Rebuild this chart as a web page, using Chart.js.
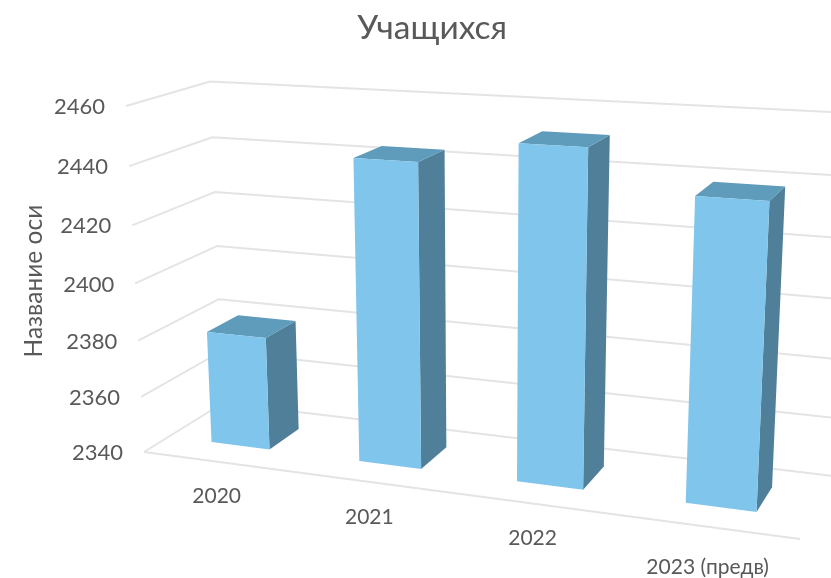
<!DOCTYPE html>
<html lang="ru">
<head>
<meta charset="utf-8">
<title>Учащихся</title>
<script src="https://cdn.jsdelivr.net/npm/chart.js@4/dist/chart.umd.js"></script>
<style>
  html, body { margin: 0; padding: 0; background: #fff; overflow: hidden; }
  canvas { display: block; }
</style>
</head>
<body>
<canvas id="chart" width="831" height="578"></canvas>
<script>
'use strict';

const categories = ['2020', '2021', '2022', '2023 (предв)'];
const students = [2380, 2444, 2452, 2439];
const axisMin = 2340;
const axisMax = 2460;
const axisStep = 20;

const FONT = 'Lato, "Open Sans", sans-serif';
const TEXT = '#595959';
const GRID = '#e4e4e4';
const FRONT = '#7fc5ec';
const TOP = '#5f9bba';
const SIDE = '#507f99';

// Perspective box: the floor/wall corners on screen plus the weight of each axis
const box = {
  o: [144, 452],   // front-left floor
  u: [800, 539],   // front-right floor
  v: [126, 106],   // front-left top
  d: [223, 403],   // back-left floor
  wu: -0.128,
  wv: -0.05,
  wd: 0.08
};
const barDepth = [0.3, 0.7];

function project(u, v, d) {
  const w = 1 + box.wu * u + box.wv * v + box.wd * d;
  const at = i =>
    box.o[i] +
    (box.u[i] * (1 + box.wu) - box.o[i]) * u +
    (box.v[i] * (1 + box.wv) - box.o[i]) * v +
    (box.d[i] * (1 + box.wd) - box.o[i]) * d;
  return [at(0) / w, at(1) / w];
}

function poly(ctx, pts, color) {
  ctx.beginPath();
  pts.forEach((p, i) => (i ? ctx.lineTo(p[0], p[1]) : ctx.moveTo(p[0], p[1])));
  ctx.closePath();
  ctx.fillStyle = color;
  ctx.fill();
}

const perspective = {
  id: 'perspective',
  beforeDatasetsDraw(chart) {
    const { ctx, chartArea: area, scales } = chart;
    const yScale = scales.y;
    const xScale = scales.x;
    const vOf = py => (area.bottom - py) / (area.bottom - area.top);
    const uOf = px => (px - area.left) / (area.right - area.left);

    ctx.save();
    ctx.strokeStyle = GRID;
    ctx.lineWidth = 2;
    ctx.lineJoin = 'round';
    ctx.fillStyle = TEXT;

    // value gridlines run along the left wall and the back wall
    ctx.font = `22px ${FONT}`;
    ctx.textAlign = 'right';
    ctx.textBaseline = 'middle';
    yScale.ticks.forEach(tick => {
      const v = vOf(yScale.getPixelForValue(tick.value));
      const a = project(0, v, 0);
      const b = project(0, v, 1);
      const c = project(1, v, 1);
      ctx.beginPath();
      ctx.moveTo(a[0], a[1]);
      ctx.lineTo(b[0], b[1]);
      ctx.lineTo(c[0], c[1]);
      ctx.stroke();
      ctx.fillText(tick.label, a[0] - 21, a[1] + 1);
    });

    // front edge of the floor
    const f0 = project(0, 0, 0);
    const f1 = project(1, 0, 0);
    ctx.beginPath();
    ctx.moveTo(f0[0], f0[1]);
    ctx.lineTo(f1[0], f1[1]);
    ctx.stroke();

    // category labels hang under the floor edge
    ctx.font = `21px ${FONT}`;
    ctx.textAlign = 'center';
    xScale.getLabels().forEach((label, i) => {
      const p = project(uOf(xScale.getPixelForValue(i)), 0, 0);
      const drop = i === categories.length - 1 ? 40 : 35;
      ctx.fillText(label, p[0], p[1] + drop);
    });
    ctx.restore();
  },
  beforeDatasetDraw(chart, args) {
    const { ctx, chartArea: area } = chart;
    const vOf = py => (area.bottom - py) / (area.bottom - area.top);
    const uOf = px => (px - area.left) / (area.right - area.left);
    const [d0, d1] = barDepth;

    args.meta.data.forEach(bar => {
      const u0 = uOf(bar.x - bar.width / 2);
      const u1 = uOf(bar.x + bar.width / 2);
      const v0 = vOf(bar.base);
      const v1 = vOf(bar.y);
      poly(ctx, [project(u1, v0, d0), project(u1, v1, d0), project(u1, v1, d1), project(u1, v0, d1)], SIDE);
      poly(ctx, [project(u0, v1, d0), project(u1, v1, d0), project(u1, v1, d1), project(u0, v1, d1)], TOP);
      poly(ctx, [project(u0, v0, d0), project(u1, v0, d0), project(u1, v1, d0), project(u0, v1, d0)], FRONT);
    });
    return false; // the flat rectangles are replaced by the boxes above
  }
};

new Chart(document.getElementById('chart'), {
  type: 'bar',
  data: {
    labels: categories,
    datasets: [{
      label: 'Учащихся',
      data: students,
      base: axisMin,
      backgroundColor: FRONT,
      categoryPercentage: 1,
      barPercentage: 0.4
    }]
  },
  options: {
    responsive: false,
    animation: false,
    layout: { padding: { left: 15, right: 27, top: 0, bottom: 118 } },
    plugins: {
      legend: { display: false },
      tooltip: { enabled: false },
      title: {
        display: true,
        text: 'Учащихся',
        fullSize: false,
        color: TEXT,
        font: { family: FONT, size: 33.5, weight: 'normal' },
        padding: { top: 8, bottom: 54 }
      }
    },
    scales: {
      x: { display: false },
      y: {
        min: axisMin,
        max: axisMax,
        ticks: { display: false, stepSize: axisStep, callback: value => String(value) },
        grid: { display: false },
        border: { display: false },
        title: {
          display: true,
          text: 'Название оси',
          color: TEXT,
          font: { family: FONT, size: 24.5, weight: 'normal' }
        }
      }
    }
  },
  plugins: [perspective]
});
</script>
</body>
</html>
